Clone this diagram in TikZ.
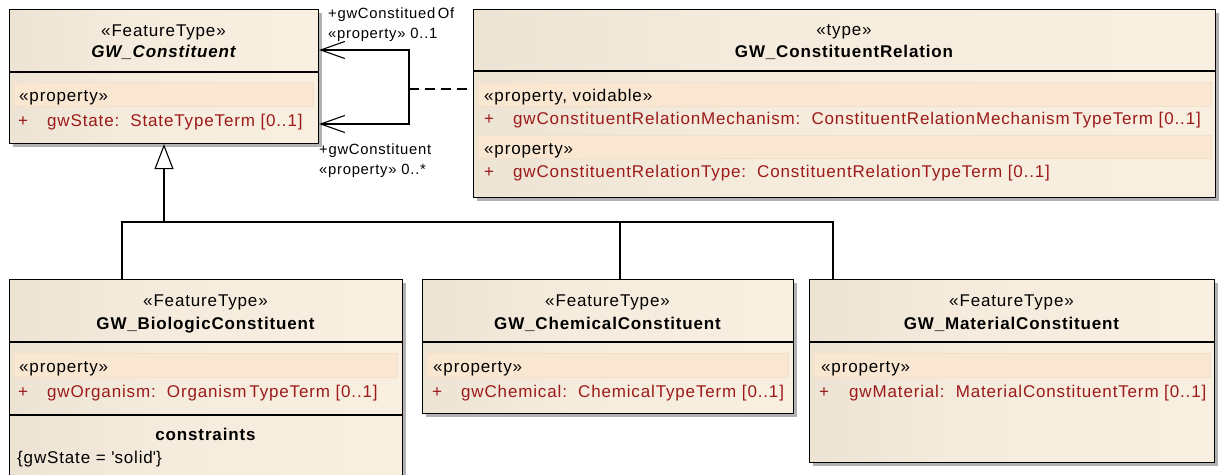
\documentclass[tikz,border=0pt]{standalone}
\usepackage{fontspec}
\setmainfont{Liberation Sans}[LetterSpace=5]
\usetikzlibrary{arrows.meta,shadows}
\definecolor{fillL}{HTML}{E3D9C9}
\definecolor{fillM}{HTML}{F6ECDD}
\definecolor{fillR}{HTML}{FCF2E4}
\definecolor{bandfill}{HTML}{F9E7D1}
\definecolor{bandline}{HTML}{F2E0CA}
\definecolor{attr}{HTML}{9C1A1A}
\pgfdeclarehorizontalshading{umlfill}{100bp}{color(0bp)=(fillL); color(45bp)=(fillM); color(100bp)=(fillR)}

\begin{document}
\begin{tikzpicture}[x=1pt,y=-1pt,
  umlbox/.style={draw=black, line width=1.1pt, shading=umlfill, anchor=north west,
    inner sep=0pt, drop shadow={shadow xshift=3.5pt, shadow yshift=-3.5pt, fill=black!30, opacity=1}},
  divline/.style={draw=black, line width=1.1pt},
  band/.style={fill=bandfill, draw=bandline, line width=0.6pt},
  txt/.style={inner sep=0pt, font=\fontsize{17}{20}\selectfont},
  ctr/.style={txt, anchor=base},
  lft/.style={txt, anchor=base west},
  red/.style={lft, text=attr},
  lbl/.style={inner sep=0pt, anchor=base west, font=\fontsize{14.8}{17}\selectfont},
  conn/.style={draw=black, line width=1.1pt},
  barb/.tip={Straight Barb[length=24pt, width=17pt]},
  gentip/.tip={Triangle[open, fill=white, length=25pt, width=19pt]}
]
\fill[white] (0,0) rectangle (1223,474);
\useasboundingbox (0,0) rectangle (1223,474);

% ---------- GW_Constituent ----------
\node[umlbox, minimum width=309pt, minimum height=134pt] (gc) at (9,9) {};
\node[ctr] (gcst) at (163.5,36) {«FeatureType»};
\node[ctr] (gcnm) at (163.5,57) {\bfseries\itshape GW\_Constituent};
\draw[divline] (9,72) -- (318,72);
\path[band] (13,82) rectangle (313,106);
\node[lft] (gcpr) at (19,101.5) {«property»};
\node[red] (gcpl) at (18,126) {+};
\node[red] (gcat) at (47,126) {gwState:\ \ StateTypeTerm [0..1]};

% ---------- GW_ConstituentRelation ----------
\node[umlbox, minimum width=742pt, minimum height=188pt] (rel) at (473,9) {};
\node[ctr] (relst) at (844,35) {«type»};
\node[ctr] (relnm) at (844,57) {\bfseries GW\_ConstituentRelation};
\draw[divline] (473,71) -- (1215,71);
\path[band] (477,82) rectangle (1211,106);
\node[lft] (relpr1) at (484,101.5) {«property, voidable»};
\node[red] (relpl1) at (484,124.5) {+};
\node[red] (relat1) at (513,124.5) {gwConstituentRelationMechanism:\ \ ConstituentRelationMechanism\,TypeTerm [0..1]};
\path[band] (477,135) rectangle (1211,158);
\node[lft] (relpr2) at (484,154) {«property»};
\node[red] (relpl2) at (484,177) {+};
\node[red] (relat2) at (513,177) {gwConstituentRelationType:\ \ ConstituentRelationTypeTerm [0..1]};

% ---------- GW_BiologicConstituent ----------
\node[umlbox, minimum width=393pt, minimum height=196pt] (bio) at (9,279) {};
\node[ctr] (biost) at (205.5,306) {«FeatureType»};
\node[ctr] (bionm) at (205.5,329) {\bfseries GW\_BiologicConstituent};
\draw[divline] (9,342) -- (402,342);
\path[band] (13,353) rectangle (397,377);
\node[lft] (biopr) at (19,372.5) {«property»};
\node[red] (biopl) at (18,397) {+};
\node[red] (bioat) at (47,397) {gwOrganism:\ \ Organism\,TypeTerm [0..1]};
\draw[divline] (9,415) -- (402,415);
\node[ctr] (bioct) at (205.5,440) {\bfseries constraints};
\node[lft] (biocv) at (17,463) {\{gwState = \textquotesingle solid\textquotesingle\}};

% ---------- GW_ChemicalConstituent ----------
\node[umlbox, minimum width=371pt, minimum height=134pt] (chem) at (422,279) {};
\node[ctr] (chst) at (607.5,306) {«FeatureType»};
\node[ctr] (chnm) at (607.5,329) {\bfseries GW\_ChemicalConstituent};
\draw[divline] (422,342) -- (793,342);
\path[band] (426,353) rectangle (788,377);
\node[lft] (chpr) at (433,372.5) {«property»};
\node[red] (chpl) at (432,397) {+};
\node[red] (chat) at (461,397) {gwChemical:\ \ ChemicalTypeTerm [0..1]};

% ---------- GW_MaterialConstituent ----------
\node[umlbox, minimum width=405pt, minimum height=183pt] (mat) at (809,279) {};
\node[ctr] (mast) at (1011.5,306) {«FeatureType»};
\node[ctr] (manm) at (1011.5,329) {\bfseries GW\_MaterialConstituent};
\draw[divline] (809,342) -- (1214,342);
\path[band] (813,353) rectangle (1210,377);
\node[lft] (mapr) at (821,372.5) {«property»};
\node[red] (mapl) at (819,397) {+};
\node[red] (maat) at (849,397) {gwMaterial:\ \ MaterialConstituentTerm [0..1]};

% ---------- self association with association class ----------
\coordinate (turnA) at (409,50);
\coordinate (turnB) at (409,124);
\coordinate (assocMid) at (409,89);
\draw[conn, barb-barb] (gc.east |- turnA) -- (turnA) -- (turnB) -- (gc.east |- turnB);
\draw[conn, dash pattern=on 10pt off 6pt] (assocMid) -- (rel.west |- assocMid);
\node[lbl] (roleA1) at (328,18) {+gwConstitued\,Of};
\node[lbl] (roleA2) at (328,38) {«property» 0..1};
\node[lbl] (roleB1) at (319,154.5) {+gwConstituent};
\node[lbl] (roleB2) at (319,174.5) {«property» 0..*};

% ---------- generalization tree ----------
\coordinate (hub) at (164,222);
\coordinate (jb) at (122,222);
\coordinate (jc) at (620,222);
\coordinate (jm) at (833,222);
\draw[conn] (jb |- bio.north) -- (jb) -- (jm) -- (jm |- mat.north);
\draw[conn] (jc) -- (jc |- chem.north);
\draw[conn, -gentip] (hub) -- (gc.south -| hub);
\end{tikzpicture}
\end{document}
